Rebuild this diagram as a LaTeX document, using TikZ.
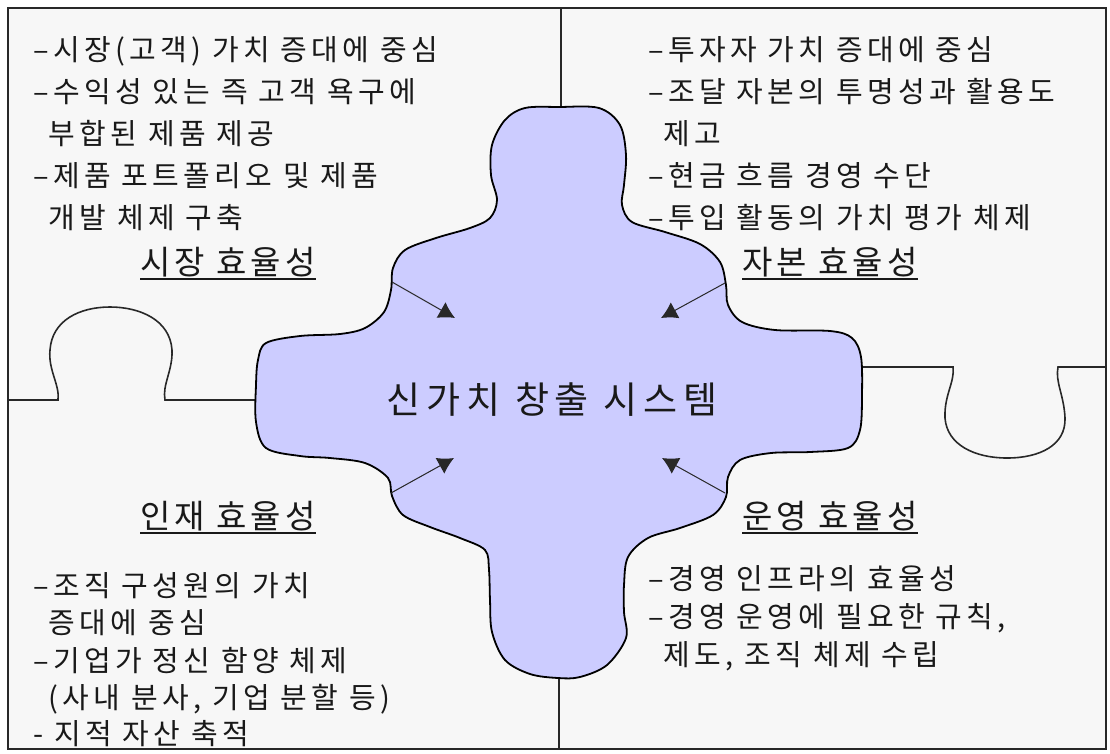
\documentclass[tikz,border=0pt]{standalone}
\usepackage{fontspec}
\setmainfont{Noto Sans CJK KR}
\usetikzlibrary{arrows.meta}
\definecolor{bgc}{RGB}{247,247,247}
\definecolor{blobc}{RGB}{204,204,255}
\definecolor{lnc}{RGB}{40,40,40}
\definecolor{txc}{RGB}{25,25,25}
\begin{document}
\begin{tikzpicture}[x=1pt,y=-1pt,
  frame/.style={draw=lnc,line width=1.6pt,fill=bgc},
  divline/.style={draw=lnc,line width=1.6pt},
  blob/.style={draw=black,line width=1.8pt,fill=blobc},
  txt/.style={font=\fontsize{29}{36}\selectfont\addfontfeature{LetterSpace=15},inner sep=0pt,text=txc,anchor=base west},
  ttl/.style={font=\fontsize{33}{40}\selectfont\addfontfeature{LetterSpace=12},inner sep=0pt,text=txc,anchor=base},
  ctr/.style={font=\fontsize{37}{44}\selectfont\addfontfeature{LetterSpace=16},inner sep=0pt,text=txc},
  uline/.style={draw=txc,line width=1.4pt},
  arr/.style={draw=lnc,line width=1pt,-{Latex[length=16pt,width=18pt]}}]
\useasboundingbox (0,0) rectangle (1110,753);
\fill[white] (0,0) rectangle (1110,753);
\path[frame] (8,8) rectangle (1106,749);
% division lines
\path[divline] (561,8) -- (561,115);
\path[divline] (559,665) -- (559,749);
\path[divline] (8,400) -- (58,400) .. controls (60,385) and (48,370) .. (50,350)
  .. controls (52,320) and (80,307) .. (110,307)
  .. controls (140,307) and (170,320) .. (172,350)
  .. controls (173,370) and (162,385) .. (165,400) -- (262,400);
\path[divline] (855,367) -- (953,367) .. controls (955,382) and (944,395) .. (945,418)
  .. controls (947,445) and (975,458) .. (1007,458)
  .. controls (1040,458) and (1066,445) .. (1065,418)
  .. controls (1064,395) and (1055,382) .. (1058,367) -- (1106,367);
% central blob
\path[blob] plot[smooth cycle,tension=0.55] coordinates {
 (559,107) (599,108) (620,125) (626,155) (624,185) (622,205)
 (632,222) (665,232) (700,244) (720,262) (726,285) (728,305)
 (742,322) (775,330) (830,331) (852,338) (861,357) (862,395)
 (860,430) (848,448) (810,452) (771,453) (740,460) (728,477)
 (726,497) (713,515) (680,528) (648,538) (628,557) (624,585)
 (624,612) (626,638) (607,665) (580,677) (558,678) (530,674)
 (505,660) (492,632) (490,600) (489,570) (485,550) (460,538)
 (430,527) (403,515) (392,496) (388,478) (365,463) (330,458)
 (300,456) (266,448) (256,422) (256,385) (258,360) (266,343)
 (300,336) (340,334) (365,328) (384,312) (391,290) (393,268)
 (405,250) (436,238) (470,228) (490,218) (497,200) (491,175)
 (492,145) (505,120) (525,108)};
\node[ctr] (center) at (552,400) {신가치 창출 시스템};
% arrows
\coordinate (a1s) at (392,282); \coordinate (a1e) at (455,318);
\coordinate (a2s) at (725,283); \coordinate (a2e) at (661,318);
\coordinate (a3s) at (391,493); \coordinate (a3e) at (454,458);
\coordinate (a4s) at (725,493); \coordinate (a4e) at (662,458);
\draw[arr] (a1s) -- (a1e);
\draw[arr] (a2s) -- (a2e);
\draw[arr] (a3s) -- (a3e);
\draw[arr] (a4s) -- (a4e);
% top-left
\node[txt] (tl1) at (33,60) {–시장(고객) 가치 증대에 중심};
\node[txt] (tl2) at (33,102) {–수익성 있는 즉 고객 욕구에};
\node[txt] (tl3) at (33,144) {\phantom{–}부합된 제품 제공};
\node[txt] (tl4) at (33,186) {–제품 포트폴리오 및 제품};
\node[txt] (tl5) at (33,228) {\phantom{–}개발 체제 구축};
\node[ttl] (tlt) at (228,274) {시장 효율성};
\path[uline] ([yshift=-5pt]tlt.base west) -- ([yshift=-5pt]tlt.base east);
% top-right
\node[txt] (tr1) at (648,60) {–투자자 가치 증대에 중심};
\node[txt] (tr2) at (648,102) {–조달 자본의 투명성과 활용도};
\node[txt] (tr3) at (648,144) {\phantom{–}제고};
\node[txt] (tr4) at (648,186) {–현금 흐름 경영 수단};
\node[txt] (tr5) at (648,228) {–투입 활동의 가치 평가 체제};
\node[ttl] (trt) at (830,274) {자본 효율성};
\path[uline] ([yshift=-5pt]trt.base west) -- ([yshift=-5pt]trt.base east);
% bottom-left
\node[ttl] (blt) at (228,528) {인재 효율성};
\path[uline] ([yshift=-5pt]blt.base west) -- ([yshift=-5pt]blt.base east);
\node[txt] (bl1) at (33,596) {–조직 구성원의 가치};
\node[txt] (bl2) at (33,633) {\phantom{–}증대에 중심};
\node[txt] (bl3) at (33,671) {–기업가 정신 함양 체제};
\node[txt] (bl4) at (33,708) {\phantom{–}(사내 분사, 기업 분할 등)};
\node[txt] (bl5) at (33,744) {- 지적 자산 축적};
% bottom-right
\node[ttl] (brt) at (830,528) {운영 효율성};
\path[uline] ([yshift=-5pt]brt.base west) -- ([yshift=-5pt]brt.base east);
\node[txt] (br1) at (648,589) {–경영 인프라의 효율성};
\node[txt] (br2) at (648,627) {–경영 운영에 필요한 규칙,};
\node[txt] (br3) at (648,665) {\phantom{–}제도, 조직 체제 수립};
\end{tikzpicture}
\end{document}
